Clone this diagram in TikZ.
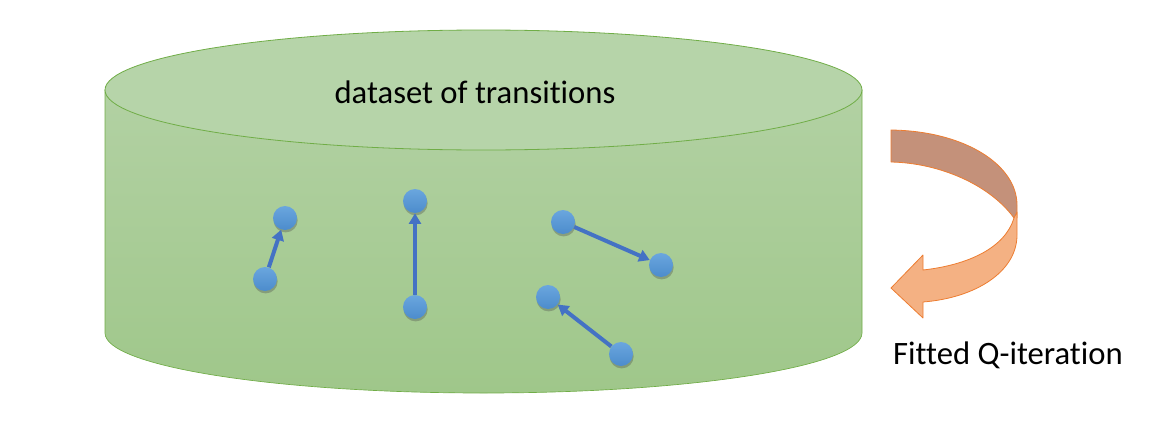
\documentclass[tikz,border=0pt]{standalone}
\usepackage{fontspec}
\setmainfont{Carlito}[Ligatures={NoCommon,NoRare,NoDiscretionary}]
\usetikzlibrary{arrows.meta,shadows}
\definecolor{cyltop}{HTML}{B6D4A9}
\definecolor{cylbodyA}{HTML}{B2D1A3}
\definecolor{cylbodyB}{HTML}{9FC78A}
\definecolor{cylline}{HTML}{70AD47}
\definecolor{dotA}{HTML}{6AA6DE}
\definecolor{dotB}{HTML}{4C8CCC}
\definecolor{arrblue}{HTML}{4472C4}
\definecolor{brownband}{HTML}{C4917A}
\definecolor{orangeband}{HTML}{F4B183}
\definecolor{orangeline}{HTML}{ED7D31}
\tikzset{
  dot/.style={circle, minimum size=18pt, inner sep=0pt, top color=dotA, bottom color=dotB, draw=none,
    drop shadow={shadow xshift=0.5pt, shadow yshift=-1.8pt, opacity=0.35, fill=black!70}},
  trans/.style={draw=arrblue, line width=3pt, -{Triangle[length=8pt,width=9pt]}},
  lbl/.style={font=\fontsize{24.5}{29}\selectfont, text=black, inner sep=0pt},
  band/.style={draw=orangeline, line width=0.6pt, line join=round}
}
\begin{document}
\begin{tikzpicture}[x=0.75pt,y=-0.75pt]
\useasboundingbox (0,0) rectangle (1175,421);
% cylinder body
\path[top color=cylbodyA, bottom color=cylbodyB, draw=cylline, line width=0.5pt]
  (105,90) -- (105,333) arc[start angle=180, end angle=360, x radius=283.875pt, y radius=45pt] -- (862,90) -- cycle;
% top ellipse
\draw[fill=cyltop, draw=cylline, line width=0.6pt] (483.5,90) ellipse [x radius=283.875pt, y radius=45pt];
\node[lbl] (title) at (475,92) {dataset of transitions};
% transitions
\node[dot] (a1) at (265,279) {};
\node[dot] (a2) at (285,218) {};
\node[dot] (b1) at (415,307) {};
\node[dot] (b2) at (415,201) {};
\node[dot] (c1) at (563,222) {};
\node[dot] (c2) at (661,265) {};
\node[dot] (d1) at (621,354) {};
\node[dot] (d2) at (548,297) {};
\draw[trans] (a1) -- (a2);
\draw[trans] (b1) -- (b2);
\draw[trans] (c1) -- (c2);
\draw[trans] (d1) -- (d2);
% curved arrow
\path[band, fill=brownband]
  (891,130) .. controls (965,131) and (1017,165) .. (1017,205) -- (1017,218) -- (1014,218)
  .. controls (990,185) and (940,163) .. (891,162) -- cycle;
\path[band, fill=orangeband]
  (1014,218) -- (1017,212) -- (1017,235) .. controls (1017,272) and (975,298) .. (923,302)
  -- (923,318) -- (891,288) -- (923,255) -- (923,270)
  .. controls (968,265) and (1005,248) .. (1014,218) -- cycle;
\node[lbl] (fqi) at (1008,355) {Fitted Q-iteration};
\end{tikzpicture}
\end{document}
